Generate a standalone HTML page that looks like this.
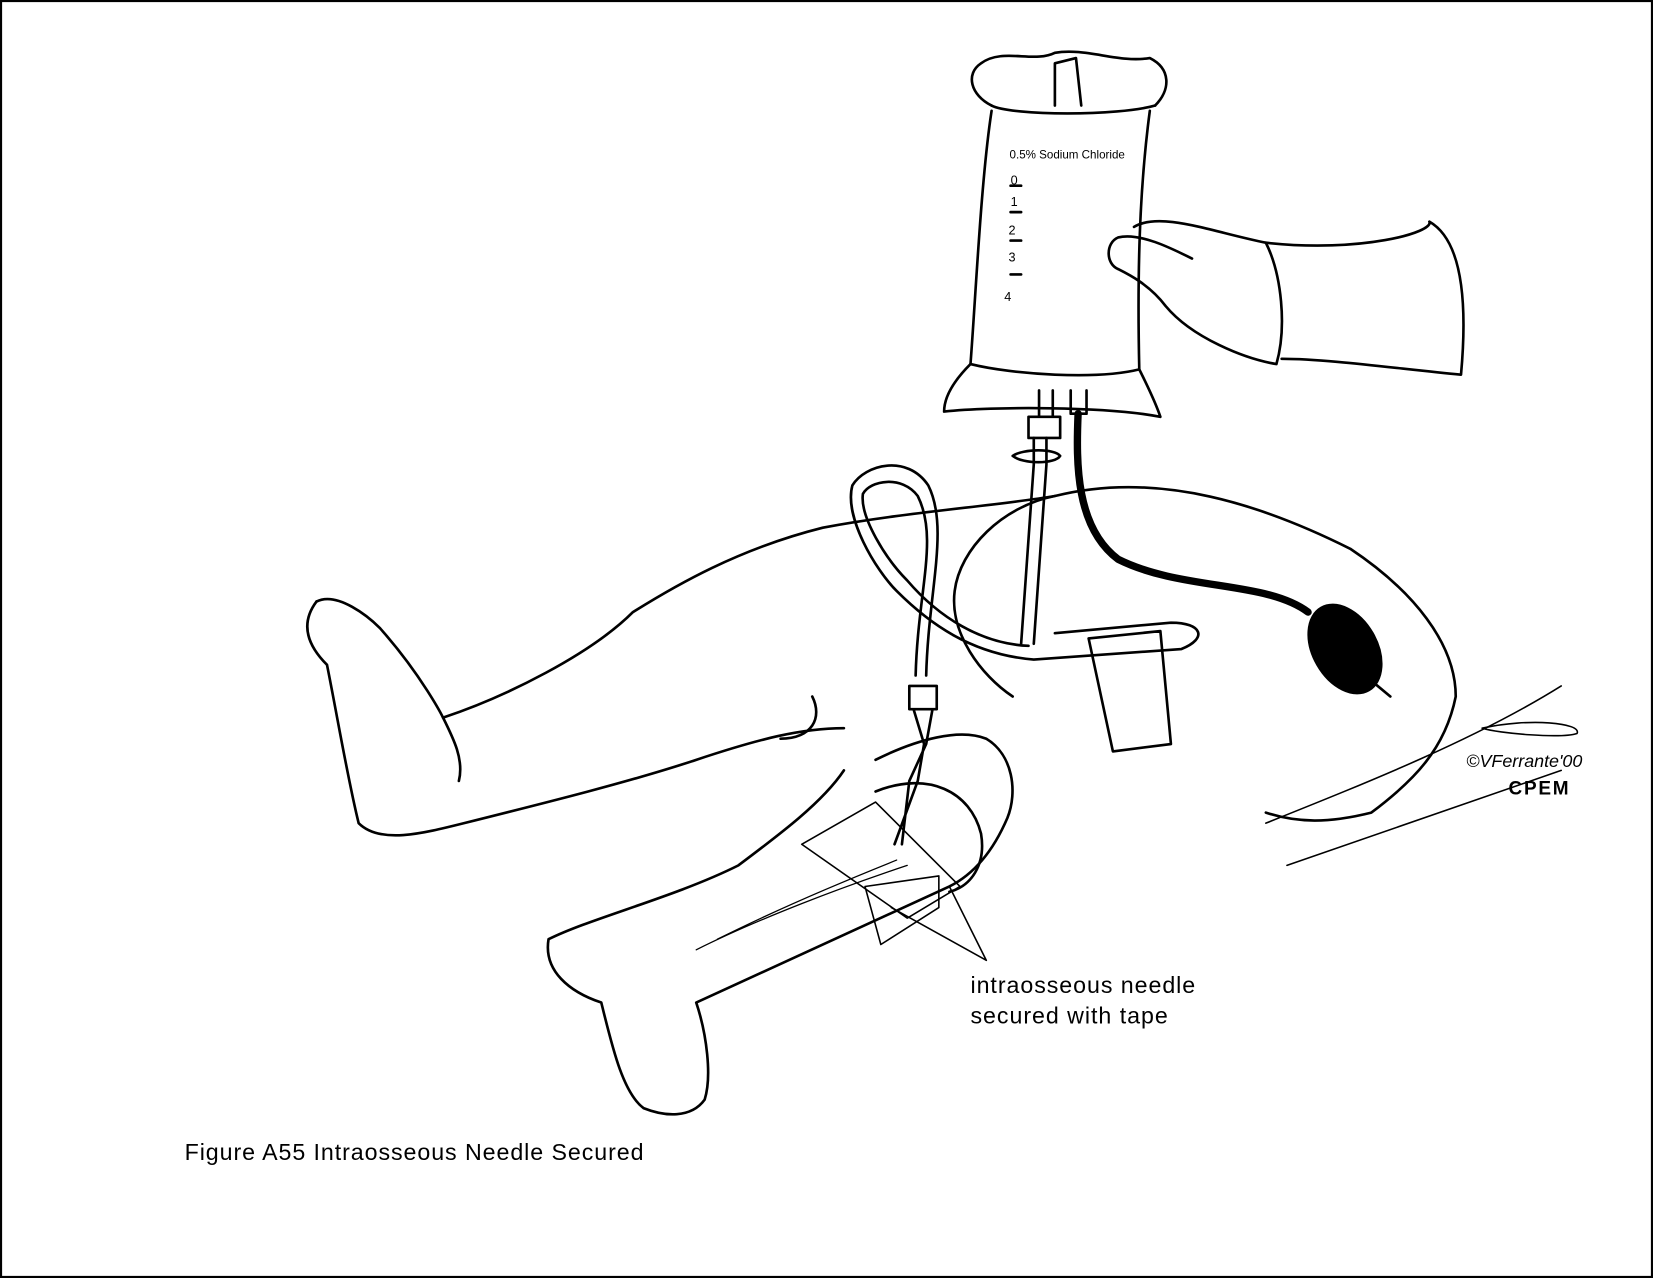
<!DOCTYPE html>
<html><head><meta charset="utf-8"><style>
html,body{margin:0;padding:0;background:#fff}
svg{display:block}
text{font-family:"Liberation Sans",sans-serif;fill:#000}
</style></head><body>
<svg width="1653" height="1278" viewBox="0 0 1567 1211" preserveAspectRatio="none" xmlns="http://www.w3.org/2000/svg">
<rect x="1" y="1" width="1565" height="1209" fill="#fff" stroke="#000" stroke-width="2"/>
<g fill="none" stroke="#000" stroke-width="2.5" stroke-linecap="round" stroke-linejoin="round">
<path d="M940 100 C920 90 915 70 930 60 C950 45 980 60 1000 50 C1030 45 1060 60 1090 55 C1110 65 1110 85 1095 100"/>
<path d="M1000 100 L1000 60 L1020 55 L1025 100"/>
<path d="M940 100 C960 110 1060 110 1095 100"/>
<path d="M940 105 C930 170 925 280 920 345 C960 355 1040 360 1080 350 C1078 260 1080 180 1090 105"/>
<path d="M920 345 C905 360 895 375 895 390 C940 385 1050 385 1100 395 C1095 380 1085 360 1080 350"/>
<path d="M958 176 L968 176 M958 201 L968 201 M958 228 L968 228 M958 260 L968 260"/>
<path d="M985 370 L985 395 L998 395 L998 370 M975 395 L1005 395 L1005 415 L975 415 Z"/>
<path d="M1015 370 L1015 392 L1030 392 L1030 370"/>
<path d="M960 432 C970 425 1000 425 1005 432 C1000 440 970 440 960 432"/>
<path d="M980 415 L980 440 L968 610 M992 415 L992 440 L980 610"/>
<path d="M1022 392 C1020 440 1020 500 1060 530 C1120 560 1200 550 1240 580" stroke-width="7"/>
<ellipse cx="1275" cy="615" rx="30" ry="45" transform="rotate(-30 1275 615)" fill="#000"/>
<path d="M1300 645 L1318 660"/>
<path d="M878 640 C880 560 900 500 880 460 C860 430 820 440 808 460 C800 490 830 540 850 560 C880 590 920 620 980 625 L1120 615 C1145 605 1140 590 1110 590 L1000 600"/>
<path d="M868 640 C870 560 890 510 870 470 C855 450 825 455 818 468 C815 490 840 530 860 550 C890 585 930 610 975 612"/>
<path d="M1032 605 L1100 598 L1110 705 L1055 712 Z"/>
<path d="M1075 215 C1100 200 1150 220 1200 230 C1215 260 1220 310 1210 345 C1180 340 1130 320 1105 290 C1090 270 1070 260 1060 255 C1048 250 1048 230 1060 225 C1080 220 1110 235 1130 245"/>
<path d="M1200 230 C1290 240 1360 220 1355 210 C1390 230 1390 300 1385 355 C1330 350 1260 340 1215 340"/>
<path d="M300 570 C320 560 350 585 360 595 C400 640 420 680 420 680 C480 660 560 620 600 580 C640 555 700 520 780 500 C860 485 940 480 1000 470 C1100 445 1200 480 1280 520 C1340 560 1380 610 1380 660 C1370 710 1340 740 1300 770 C1260 780 1230 780 1200 770"/>
<path d="M300 570 C285 590 290 610 310 630 C320 680 330 740 340 780 C360 800 400 790 440 780 C520 760 600 740 660 720 C720 700 760 690 800 690"/>
<path d="M1000 470 C950 480 910 520 905 560 C900 600 930 640 960 660"/>
<path d="M420 680 C430 700 440 720 435 740"/>
<path d="M770 660 C780 680 770 700 740 700"/>
<path d="M830 720 C870 700 910 690 935 700 C960 715 965 750 955 775 C940 810 920 830 900 840 L660 950 C670 980 675 1020 668 1042 C655 1060 630 1058 610 1050 C590 1035 580 990 570 950 C540 940 515 920 520 890 C560 870 640 850 700 820 C740 790 780 760 800 730"/>
<path d="M830 750 C880 730 920 750 930 790 C935 820 920 840 900 845"/>
<path d="M760 800 L830 760 L910 840 L860 870 Z" stroke-width="1.5"/>
<path d="M820 840 L890 830 L890 860 L835 895 Z" stroke-width="1.5"/>
<path d="M862 650 L888 650 L888 672 L862 672 Z M866 672 L876 705 L870 740 L848 800 M884 672 L878 705 L862 740 L855 800"/>
<path d="M845 860 L935 910 L900 840" stroke-width="1.5"/>
<path d="M1200 780 C1300 740 1400 700 1480 650 M1220 820 L1480 730" stroke-width="1.5"/>
<path d="M1405 690 C1450 680 1500 685 1495 695 C1480 700 1420 695 1405 690" stroke-width="1.5"/>
<path d="M660 900 C720 870 800 840 860 820 M680 890 C740 860 800 835 850 815" stroke-width="1.2"/>
</g>
<text x="957" y="150" font-size="11">0.5%  Sodium Chloride</text>
<text x="958" y="175" font-size="12">0</text>
<text x="958" y="195" font-size="12">1</text>
<text x="956" y="222" font-size="12">2</text>
<text x="956" y="248" font-size="12">3</text>
<text x="952" y="285" font-size="12">4</text>
<text x="1390" y="727" font-size="17" font-style="italic" textLength="110">©VFerrante'00</text>
<text x="1430" y="753" font-size="18" font-weight="bold" textLength="57">CPEM</text>
<text x="920" y="941" font-size="22" textLength="213">intraosseous needle</text>
<text x="920" y="970" font-size="22" textLength="187">secured with tape</text>
<text x="175" y="1099" font-size="22" textLength="435">Figure A55 Intraosseous Needle Secured</text>
</svg>
</body></html>
